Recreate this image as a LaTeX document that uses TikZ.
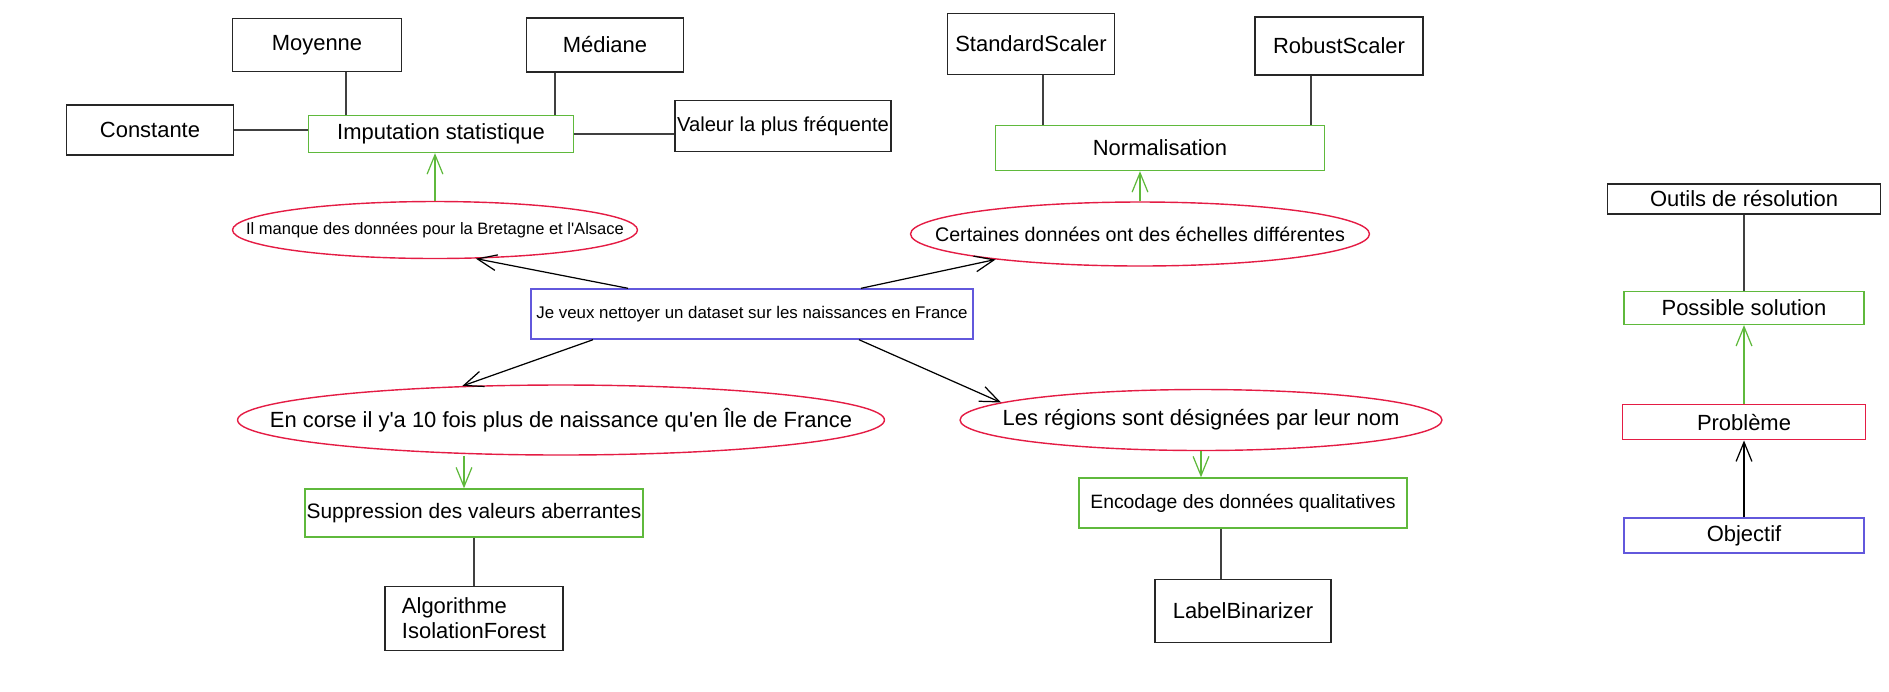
\documentclass[tikz,border=0pt]{standalone}
\usepackage{fontspec}
\setmainfont{Liberation Sans}
\usetikzlibrary{arrows.meta,positioning,shapes.geometric}

\definecolor{sgreen}{RGB}{95,185,60}
\definecolor{sred}{RGB}{228,28,68}
\definecolor{sblue}{RGB}{98,88,220}

\begin{document}
\begin{tikzpicture}[x=0.02cm,y=-0.02cm,
  box/.style={draw,line width=0.8pt,inner sep=1pt,font=\fontsize{12.5}{15}\selectfont},
  tool/.style={box,draw=black!85},
  sol/.style={box,draw=sgreen},
  goal/.style={box,draw=sblue},
  prob/.style={ellipse,draw=sred,line width=0.8pt,inner sep=0pt,font=\fontsize{12.5}{15}\selectfont},
  link/.style={line width=0.7pt,draw=black!75},
  arr/.style={line width=0.7pt,-{Straight Barb[length=11pt,width=9pt]}}]
  \useasboundingbox (0,0) rectangle (1889,691);

  % imputation
  \node[tool,minimum width=3.38cm,minimum height=1.06cm] (moy)     at (317,45)  {Moyenne};
  \node[tool,minimum width=3.14cm,minimum height=1.08cm] (med)     at (605,45)  {Médiane};
  \node[tool,minimum width=3.34cm,minimum height=1cm]    (const)   at (150,130) {Constante};
  \node[sol,minimum width=5.3cm,minimum height=0.74cm]   (imput)   at (441,134) {Imputation statistique};
  \node[tool,minimum width=4.32cm,minimum height=1.02cm,font=\fontsize{11.5}{14}\selectfont]
                                                         (valfreq) at (783,126) {Valeur la plus fréquente};
  \node[prob,minimum width=8.1cm,minimum height=1.14cm,font=\fontsize{9.4}{11}\selectfont]
                                                         (manque)  at (435,230) {\makebox[0pt]{Il manque des données pour la Bretagne et l\textquotesingle Alsace}};

  % normalisation
  \node[tool,minimum width=3.34cm,minimum height=1.22cm] (stand)   at (1031,44) {StandardScaler};
  \node[tool,minimum width=3.36cm,minimum height=1.16cm] (robust)  at (1339,46) {RobustScaler};
  \node[sol,minimum width=6.58cm,minimum height=0.9cm]   (norm)    at (1160,148) {Normalisation};
  \node[prob,minimum width=9.18cm,minimum height=1.28cm,font=\fontsize{11.2}{13}\selectfont]
                                                         (echelle) at (1140,234) {\makebox[0pt]{Certaines données ont des échelles différentes}};

  % objectif
  \node[goal,minimum width=8.84cm,minimum height=1cm,font=\fontsize{9.6}{12}\selectfont]
                                                         (obj)     at (752,314) {Je veux nettoyer un dataset sur les naissances en France};

  % valeurs aberrantes
  \node[prob,minimum width=12.94cm,minimum height=1.4cm] (corse)   at (561,420) {\makebox[0pt]{En corse il y\textquotesingle a 10 fois plus de naissance qu\textquotesingle en Île de France}};
  \node[sol,minimum width=6.76cm,minimum height=0.96cm,font=\fontsize{11.9}{14}\selectfont]
                                                         (suppr)   at (474,513) {Suppression des valeurs aberrantes};
  \node[tool,minimum width=3.56cm,minimum height=1.28cm,align=left,font=\fontsize{12.5}{14.3}\selectfont]
                                                         (algo)    [below=0.96cm of suppr] {Algorithme\\IsolationForest};

  % encodage
  \node[prob,minimum width=9.64cm,minimum height=1.22cm] (regions) at (1201,420) {\makebox[0pt]{Les régions sont désignées par leur nom}};
  \node[sol,minimum width=6.56cm,minimum height=1cm,font=\fontsize{11}{13}\selectfont]
                                                         (encod)   at (1243,503) {Encodage des données qualitatives};
  \node[tool,minimum width=3.52cm,minimum height=1.26cm] (labbin)  [below=1cm of encod] {LabelBinarizer};

  % legende
  \node[tool,minimum width=5.46cm,minimum height=0.6cm]  (legout)  at (1744,199) {Outils de résolution};
  \node[sol,minimum width=4.8cm,minimum height=0.66cm]   (legsol)  [below=1.52cm of legout] {Possible solution};
  \node[box,draw=sred,minimum width=4.86cm,minimum height=0.7cm] (legprob) [below=1.58cm of legsol] {Problème};
  \node[goal,minimum width=4.8cm,minimum height=0.7cm]   (legobj)  [below=1.54cm of legprob] {Objectif};

  % liens
  \draw[link] ([xshift=.58cm]moy.south) -- ([xshift=.58cm]moy.south |- imput.north);
  \draw[link] ([xshift=-1cm]med.south) -- ([xshift=-1cm]med.south |- imput.north);
  \draw[link] (const.east) -- (const.east -| imput.west);
  \draw[link] (imput.east) -- (imput.east -| valfreq.west);
  \draw[link] ([xshift=.24cm]stand.south) -- ([xshift=.24cm]stand.south |- norm.north);
  \draw[link] ([xshift=-.56cm]robust.south) -- ([xshift=-.56cm]robust.south |- norm.north);
  \draw[link] (suppr) -- (algo);
  \draw[link] ([xshift=-.44cm]labbin.north |- encod.south) -- ([xshift=-.44cm]labbin.north);
  \draw[link] (legout) -- (legsol);

  \draw[arr,sgreen] (manque.north) -- (manque.north |- imput.south);
  \draw[arr,sgreen] (echelle.north) -- (echelle.north |- norm.south);
  \draw[arr,sgreen] ([xshift=-.2cm]suppr.north |- corse.south) -- ([xshift=-.2cm]suppr.north);
  \draw[arr,sgreen] (regions.south) -- (regions.south |- encod.north);
  \draw[arr,sgreen] (legprob) -- (legsol);

  \draw[arr] ([xshift=-2.48cm]obj.north) -- (manque.-35);
  \draw[arr] ([xshift=2.18cm]obj.north) -- (echelle.190);
  \draw[arr] ([xshift=-3.18cm]obj.south) -- (corse.161);
  \draw[arr] ([xshift=2.14cm]obj.south) -- (regions.175);
  \draw[arr] (legobj) -- (legprob);
\end{tikzpicture}
\end{document}
